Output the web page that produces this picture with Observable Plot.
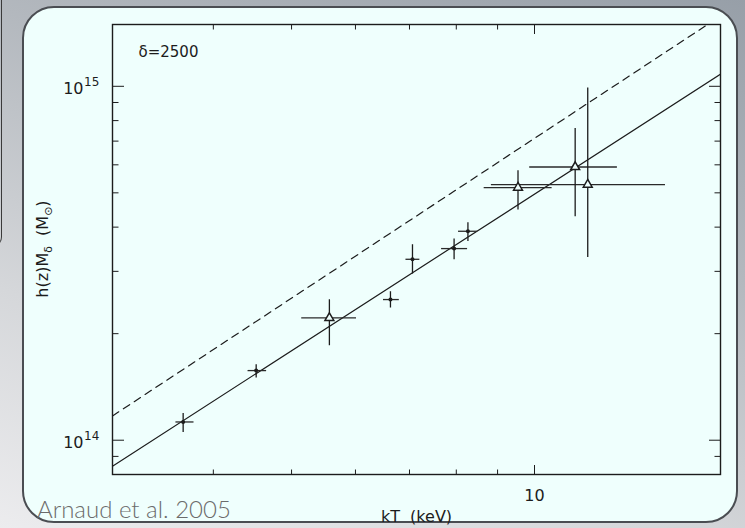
<!DOCTYPE html>
<html>
<head>
<meta charset="utf-8">
<script src="https://cdn.jsdelivr.net/npm/d3@7"></script>
<script src="https://cdn.jsdelivr.net/npm/@observablehq/plot@0.6"></script>
<style>
  html, body { margin: 0; padding: 0; }
  body {
    width: 745px; height: 528px; position: relative; overflow: hidden;
    background: linear-gradient(200deg, #979fa8 0%, #b3b8be 35%, #d5d7da 70%, #ececee 100%);
  }
  #edge {
    position: absolute; left: -40px; top: -20px; width: 41px; height: 266px;
    border-right: 1.5px solid #3a3a3a; border-bottom: 1.5px solid #3a3a3a;
    border-bottom-right-radius: 10px;
  }
  #panel {
    position: absolute; left: 22px; top: 6px; width: 716px; height: 517px;
    box-sizing: border-box; border: 2px solid #4a4d52; border-radius: 32px;
    background: #effffd;
  }
  #chart { position: absolute; left: 0; top: 0; }
  #credit {
    position: absolute; left: 37px; top: 494px; line-height: 30px;
    font-family: Lato, "Open Sans", sans-serif; font-weight: 300; font-size: 24px;
    color: #6b6b6b; white-space: nowrap;
  }
</style>
</head>
<body>
<div id="edge"></div>
<div id="panel"></div>
<div id="chart"></div>
<div id="credit">Arnaud et al. 2005</div>
<script>
// Cluster temperatures (keV) with their error ranges
const kT    = [3.67, 4.52, 5.57, 6.63, 7.06, 7.95, 8.27, 9.54, 11.23, 11.64];
const kTlo  = [3.59, 4.41, 5.14, 6.49, 6.92, 7.66, 8.04, 8.65, 9.85, 8.83];
const kThi  = [3.78, 4.65, 6.01, 6.79, 7.20, 8.25, 8.49, 10.50, 12.65, 14.51];
// h(z) M_2500 in solar masses with error ranges
const mass   = [1.126e14, 1.573e14, 2.216e14, 2.497e14, 3.245e14, 3.479e14, 3.894e14, 5.174e14, 5.916e14, 5.276e14];
const massLo = [1.055e14, 1.503e14, 1.855e14, 2.371e14, 2.957e14, 3.245e14, 3.656e14, 4.484e14, 4.293e14, 3.295e14];
const massHi = [1.194e14, 1.639e14, 2.502e14, 2.636e14, 3.579e14, 3.713e14, 4.128e14, 5.790e14, 7.625e14, 9.916e14];
// marker per cluster: "dot" or "triangle"
const marker = ["dot", "dot", "triangle", "dot", "dot", "dot", "dot", "triangle", "triangle", "triangle"];

// Power-law relations M = A (kT / 5 keV)^alpha
const fitNames  = ["observed", "simulated"];
const fitNorm   = [1.79e14, 2.52e14];
const fitSlope  = [1.47, 1.50];
const fitDashed = [false, true];

// Axis ticks and labels
const xDomain = [3, 17];
const yDomain = [8.0e13, 1.495e15];
const xMajor = [10];
const xMinor = [4, 5, 6, 7, 8, 9];
const yMajor = [1e14, 1e15];
const yMinor = [9e13, 2e14, 3e14, 4e14, 5e14, 6e14, 7e14, 8e14, 9e14];
const xLabel = "kT\u00a0 (keV)";
const overdensity = "\u03b4=2500";

const W = 745, H = 528;
const mL = 112, mR = 25, mT = 24, mB = 54;
const ink = "#1c1c1c";
const paper = "#effffd";

const idx = d3.range(kT.length);
const fitLines = fitNames.flatMap((name, k) =>
  xDomain.map(t => ({name, k, t, m: fitNorm[k] * Math.pow(t / 5, fitSlope[k])}))
);

function tickAxes() {
  const out = [];
  for (const anchor of ["bottom", "top"]) {
    out.push(Plot.axisX(xMajor, {anchor, tickSize: -9, tickFormat: () => "", stroke: ink, label: null}));
    out.push(Plot.axisX(xMinor, {anchor, tickSize: -4.5, tickFormat: () => "", stroke: ink, label: null}));
  }
  for (const anchor of ["left", "right"]) {
    out.push(Plot.axisY(yMajor, {anchor, tickSize: -12, tickFormat: () => "", stroke: ink, label: null}));
    out.push(Plot.axisY(yMinor, {anchor, tickSize: -6.5, tickFormat: () => "", stroke: ink, label: null}));
  }
  return out;
}

const plot = Plot.plot({
  width: W, height: H,
  marginLeft: mL, marginRight: mR, marginTop: mT, marginBottom: mB,
  style: {background: "transparent", fontFamily: "'DejaVu Sans', sans-serif", fontSize: "16px", color: ink, overflow: "visible"},
  x: {type: "log", domain: xDomain},
  y: {type: "log", domain: yDomain},
  marks: [
    ...tickAxes(),
    Plot.frame({stroke: ink, strokeWidth: 1.4}),
    // power-law relations
    ...fitNames.map((name, k) => Plot.line(fitLines.filter(d => d.k === k), {
      x: "t", y: "m", stroke: ink, strokeWidth: 1.2, clip: true,
      strokeDasharray: fitDashed[k] ? "7.5,5.5" : null
    })),
    // error bars
    Plot.link(idx, {x1: i => kTlo[i], x2: i => kThi[i], y1: i => mass[i], y2: i => mass[i], stroke: "#2a2a2a", strokeWidth: 1.3}),
    Plot.link(idx, {x1: i => kT[i], x2: i => kT[i], y1: i => massLo[i], y2: i => massHi[i], stroke: ink, strokeWidth: 1.3}),
    // markers
    Plot.dot(idx.filter(i => marker[i] === "dot"), {x: i => kT[i], y: i => mass[i], r: 2, fill: ink}),
    Plot.dot(idx.filter(i => marker[i] === "triangle"), {x: i => kT[i], y: i => mass[i], symbol: "triangle", r: 3.3, fill: paper, stroke: ink, strokeWidth: 1.5}),
    // tick labels
    Plot.text(xMajor, {x: d => d, frameAnchor: "bottom", lineAnchor: "bottom", dy: 26, text: d => String(d), fill: ink}),
    Plot.text(yMajor, {y: d => d, frameAnchor: "left", textAnchor: "end", lineAnchor: "bottom", dx: -29, dy: 8, text: () => "10", fill: ink}),
    Plot.text(yMajor, {y: d => d, frameAnchor: "left", textAnchor: "start", lineAnchor: "bottom", dx: -28.5, dy: 0, fontSize: 12, text: d => String(Math.round(Math.log10(d))), fill: ink}),
    // axis title and annotation
    Plot.text([xLabel], {frameAnchor: "bottom", lineAnchor: "bottom", dy: 47, text: d => d, fill: ink}),
    Plot.text([overdensity], {frameAnchor: "top-left", textAnchor: "start", lineAnchor: "top", dx: 26, dy: 22, fontSize: 15, text: d => d, fill: ink})
  ]
});

// y-axis title with subscripts
const svg = d3.select(plot);
const yTitle = svg.append("text")
  .attr("transform", `translate(${mL - 64},${(mT + H - mB) / 2}) rotate(-90)`)
  .attr("text-anchor", "middle")
  .attr("fill", ink)
  .style("font-size", "16px");
yTitle.append("tspan").text("h(z)M");
yTitle.append("tspan").attr("dy", 4).style("font-size", "11px").text("\u03b4");
yTitle.append("tspan").attr("dy", -4).text("\u00a0 (M");
yTitle.append("tspan").attr("dy", 4).style("font-size", "11px").text("\u2299");
yTitle.append("tspan").attr("dy", -4).text(")");

document.getElementById("chart").appendChild(plot);
</script>
</body>
</html>
